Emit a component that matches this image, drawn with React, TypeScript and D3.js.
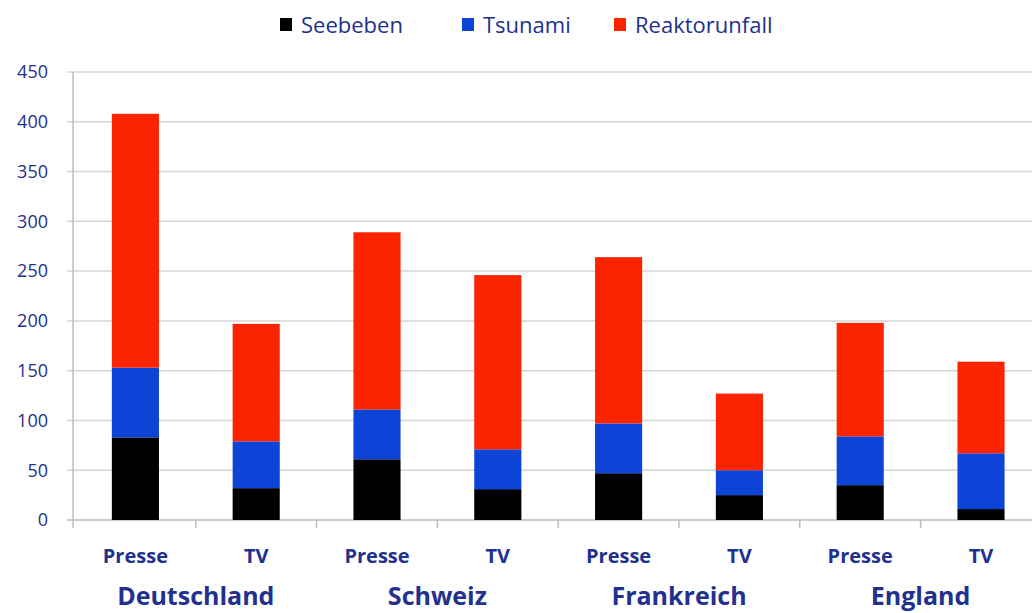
import React from "react";
import * as d3 from "d3";

const countries = ["Deutschland", "Schweiz", "Frankreich", "England"];
const media = ["Presse", "TV"];
const categories = ["Deutschland-Presse", "Deutschland-TV", "Schweiz-Presse", "Schweiz-TV", "Frankreich-Presse", "Frankreich-TV", "England-Presse", "England-TV"];
const seriesNames = ["Seebeben", "Tsunami", "Reaktorunfall"];
const seebeben = [83, 32, 61, 31, 47, 25, 35, 11];
const tsunami = [70, 47, 50, 40, 50, 25, 49, 56];
const reaktorunfall = [255, 118, 178, 175, 167, 77, 114, 92];
const yTicks = [0, 50, 100, 150, 200, 250, 300, 350, 400, 450];
const colors = ["#000000", "#0b44d6", "#fb2300"];

const W = 1032, H = 613;
const left = 75, step = 120.8;
const textColor = "#22308e";
const font = "'Open Sans', sans-serif";

export default function App() {
  const x = d3.scaleBand<string>().domain(categories).range([left, left + step * categories.length]).paddingInner(0.61).paddingOuter(0.305);
  const y = d3.scaleLinear().domain([0, 450]).range([520, 72]);
  const table = categories.map((c, i) => ({ cat: c, Seebeben: seebeben[i], Tsunami: tsunami[i], Reaktorunfall: reaktorunfall[i] }));
  const stack = d3.stack<any>().keys(seriesNames)(table);
  const legendX = [280, 462, 614];

  return (
    <svg width={W} height={H} style={{ position: "absolute", left: 0, top: 0, background: "#fff" }}>
      <rect width={W} height={H} fill="#fff" />
      {yTicks.map(t => (
        <g key={t}>
          <line x1={67} x2={W} y1={y(t)} y2={y(t)} stroke={t === 0 ? "#bdbdbd" : "#d4d4d4"} strokeWidth={1.5} />
          <text x={48} y={y(t)} dy="0.35em" textAnchor="end" fontFamily={font} fontSize={18} fill={textColor}>{t}</text>
        </g>
      ))}
      <line x1={73} x2={73} y1={72} y2={528} stroke="#bdbdbd" strokeWidth={1.5} />
      {d3.range(1, categories.length).map(i => (
        <line key={i} x1={left + i * step} x2={left + i * step} y1={520} y2={528} stroke="#bdbdbd" strokeWidth={1.5} />
      ))}
      {stack.map((s, si) => (
        <g key={s.key}>
          {s.map((d, i) => (
            <rect key={i} x={x(categories[i])} width={x.bandwidth()} y={y(d[1])} height={y(d[0]) - y(d[1])} fill={colors[si]} />
          ))}
        </g>
      ))}
      {categories.map((c, i) => (
        <text key={c} x={(x(c) as number) + x.bandwidth() / 2} y={563} textAnchor="middle" fontFamily={font} fontWeight="bold" fontSize={20} fill={textColor}>{media[i % 2]}</text>
      ))}
      {countries.map((c, i) => (
        <text key={c} x={left + step * (2 * i + 1)} y={605} textAnchor="middle" fontFamily={font} fontWeight="bold" fontSize={25} fill={textColor}>{c}</text>
      ))}
      {seriesNames.map((n, i) => (
        <g key={n}>
          <rect x={legendX[i]} y={18} width={12} height={13} fill={colors[i]} />
          <text x={legendX[i] + 21} y={25} dy="0.35em" fontFamily={font} fontSize={22} fill={textColor}>{n}</text>
        </g>
      ))}
    </svg>
  );
}
